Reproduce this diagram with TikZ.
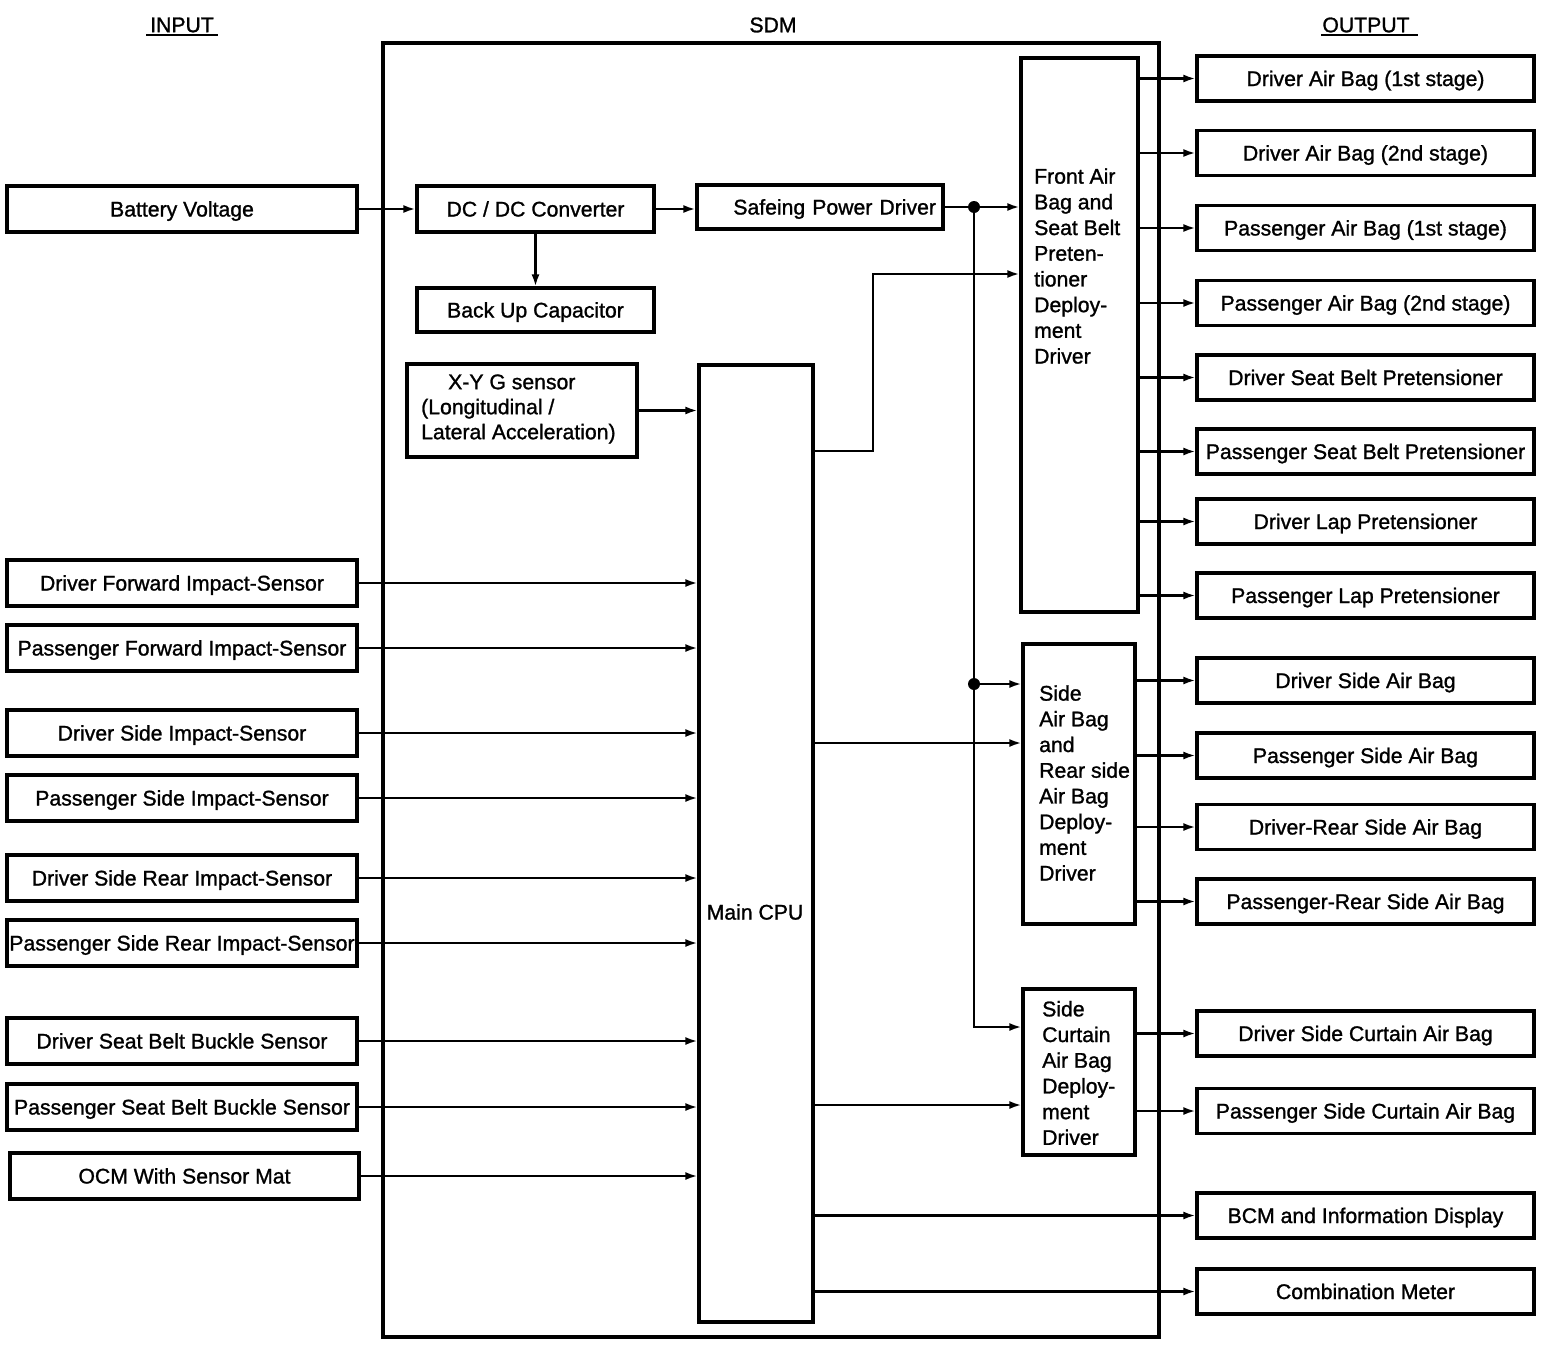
\documentclass[tikz,border=0pt]{standalone}
\usepackage{fontspec}
\setmainfont{Liberation Sans}[FakeBold=1.2]
\usetikzlibrary{arrows.meta}
\begin{document}
\begin{tikzpicture}[x=1pt,y=-1pt,
  font=\fontsize{21.2}{25.7}\selectfont,
  box/.style={draw, line width=3.2pt, inner sep=0pt, minimum height=46pt, anchor=center, text height=15pt, text depth=0pt},
  ibox/.style={box, minimum width=350pt},
  obox/.style={box, minimum width=337pt, minimum height=45pt},
  dbox/.style={draw, line width=3.2pt, inner sep=0pt, minimum width=112pt},
  lbl/.style={inner sep=0pt, align=left, anchor=west},
  hdr/.style={inner sep=0pt},
  conn/.style={line width=2.2pt},
  arr/.style={conn, -{Latex[length=12pt,width=8pt]}},
  dot/.style={fill=black}
]
\useasboundingbox (0,0) rectangle (1568,1346);

% headers
\node[hdr] (hin) at (182,25) {INPUT};
\node[hdr] (hsdm) at (773,25) {SDM};
\node[hdr] (hout) at (1366,25) {OUTPUT};
\draw[line width=2pt] ([xshift=-4pt,yshift=-3pt]hin.base west) -- ([xshift=4pt,yshift=-3pt]hin.base east);
\draw[line width=2pt] ([xshift=-1pt,yshift=-3pt]hout.base west) -- ([xshift=8pt,yshift=-3pt]hout.base east);

% SDM frame
\node[draw, line width=3.2pt, inner sep=0pt, minimum width=776pt, minimum height=1294pt] (sdm) at (771,690) {};

% inputs
\node[ibox] (bat) at (182,209) {Battery Voltage};
\node[ibox] (dfi) at (182,583) {Driver Forward Impact-Sensor};
\node[ibox] (pfi) at (182,648) {Passenger Forward Impact-Sensor};
\node[ibox] (dsi) at (182,733) {Driver Side Impact-Sensor};
\node[ibox] (psi) at (182,798) {Passenger Side Impact-Sensor};
\node[ibox] (dsr) at (182,878) {Driver Side Rear Impact-Sensor};
\node[ibox] (psr) at (182,943) {Passenger Side Rear Impact-Sensor};
\node[ibox] (dsb) at (182,1041) {Driver Seat Belt Buckle Sensor};
\node[ibox] (psb) at (182,1107) {Passenger Seat Belt Buckle Sensor};
\node[box, minimum width=349pt] (ocm) at (184.5,1176) {OCM With Sensor Mat};

% inner SDM blocks
\node[box, minimum width=237pt] (dcdc) at (535.5,209) {DC / DC Converter};
\node[box, minimum width=246pt, minimum height=44pt, text width=232pt, align=right] (spd) at (820,207) {Safeing Power Driver};
\node[box, minimum width=237pt, minimum height=44pt] (buc) at (535.5,310) {Back Up Capacitor};
\node[draw, line width=3.2pt, inner sep=0pt, minimum width=230pt, minimum height=93pt] (xyg) at (522,410.5) {};
\node[lbl, font=\fontsize{21.2}{25}\selectfont] (xygt) at (421,409) {\hspace*{27pt}X-Y G sensor\\(Longitudinal /\\Lateral Acceleration)};
\node[draw, line width=3.2pt, inner sep=0pt, minimum width=114pt, minimum height=957pt] (cpu) at (756,843.5) {};
\node[hdr] (cput) at (755,912) {Main CPU};

\node[draw, line width=3.2pt, inner sep=0pt, minimum width=117pt, minimum height=554pt] (front) at (1079.5,335) {};
\node[lbl] (frontt) at (1034,266) {Front Air\\Bag and\\Seat Belt\\Preten-\\tioner\\Deploy-\\ment\\Driver};
\node[dbox, minimum height=280pt] (sab) at (1079,784) {};
\node[lbl] (sabt) at (1039,783) {Side\\Air Bag\\and\\Rear side\\Air Bag\\Deploy-\\ment\\Driver};
\node[dbox, minimum height=166pt] (cur) at (1079,1072) {};
\node[lbl] (curt) at (1042,1073) {Side\\Curtain\\Air Bag\\Deploy-\\ment\\Driver};

% outputs
\node[obox] (o1) at (1365.5,78.5) {Driver Air Bag (1st stage)};
\node[obox] (o2) at (1365.5,153) {Driver Air Bag (2nd stage)};
\node[obox] (o3) at (1365.5,228) {Passenger Air Bag (1st stage)};
\node[obox] (o4) at (1365.5,303) {Passenger Air Bag (2nd stage)};
\node[obox] (o5) at (1365.5,377.5) {Driver Seat Belt Pretensioner};
\node[obox] (o6) at (1365.5,451.5) {Passenger Seat Belt Pretensioner};
\node[obox] (o7) at (1365.5,521.5) {Driver Lap Pretensioner};
\node[obox] (o8) at (1365.5,595.5) {Passenger Lap Pretensioner};
\node[obox] (o9) at (1365.5,680.5) {Driver Side Air Bag};
\node[obox] (o10) at (1365.5,755.5) {Passenger Side Air Bag};
\node[obox] (o11) at (1365.5,827) {Driver-Rear Side Air Bag};
\node[obox] (o12) at (1365.5,901.5) {Passenger-Rear Side Air Bag};
\node[obox] (o13) at (1365.5,1033.5) {Driver Side Curtain Air Bag};
\node[obox] (o14) at (1365.5,1111) {Passenger Side Curtain Air Bag};
\node[obox] (o15) at (1365.5,1215.5) {BCM and Information Display};
\node[obox] (o16) at (1365.5,1291.5) {Combination Meter};

% power path
\draw[arr] (bat.east) -- (dcdc.west);
\draw[arr] (dcdc.east) -- (spd.west |- dcdc.east);
\draw[arr] (dcdc.south) -- (buc.north);
\coordinate (j1) at (974,207);
\coordinate (j2) at (974,684);
\coordinate (j3) at (974,1027);
\draw[conn] (spd.east) -- (j1);
\draw[arr] (j1) -- (front.west |- j1);
\draw[arr] (j1) -- (j3) -- (cur.west |- j3);
\draw[arr] (j2) -- (sab.west |- j2);
\fill[dot] (j1) circle[radius=6pt];
\fill[dot] (j2) circle[radius=6pt];

% inputs to CPU
\draw[arr] (xyg.east) -- (cpu.west |- xyg.east);
\foreach \n in {dfi,pfi,dsi,psi,dsr,psr,dsb,psb,ocm}
  \draw[arr] (\n.east) -- (cpu.west |- \n.east);

% CPU to drivers and outputs
\coordinate (k1) at (873,451);
\coordinate (k2) at (873,274);
\draw[arr] (cpu.east |- k1) -- (k1) -- (k2) -- (front.west |- k2);
\coordinate (k3) at (873,743);
\draw[arr] (cpu.east |- k3) -- (sab.west |- k3);
\coordinate (k4) at (873,1105);
\draw[arr] (cpu.east |- k4) -- (cur.west |- k4);
\draw[arr] (cpu.east |- o15.west) -- (o15.west);
\draw[arr] (cpu.east |- o16.west) -- (o16.west);

% drivers to outputs
\foreach \n in {o1,o2,o3,o4,o5,o6,o7,o8}
  \draw[arr] (front.east |- \n.west) -- (\n.west);
\foreach \n in {o9,o10,o11,o12}
  \draw[arr] (sab.east |- \n.west) -- (\n.west);
\foreach \n in {o13,o14}
  \draw[arr] (cur.east |- \n.west) -- (\n.west);
\end{tikzpicture}
\end{document}
